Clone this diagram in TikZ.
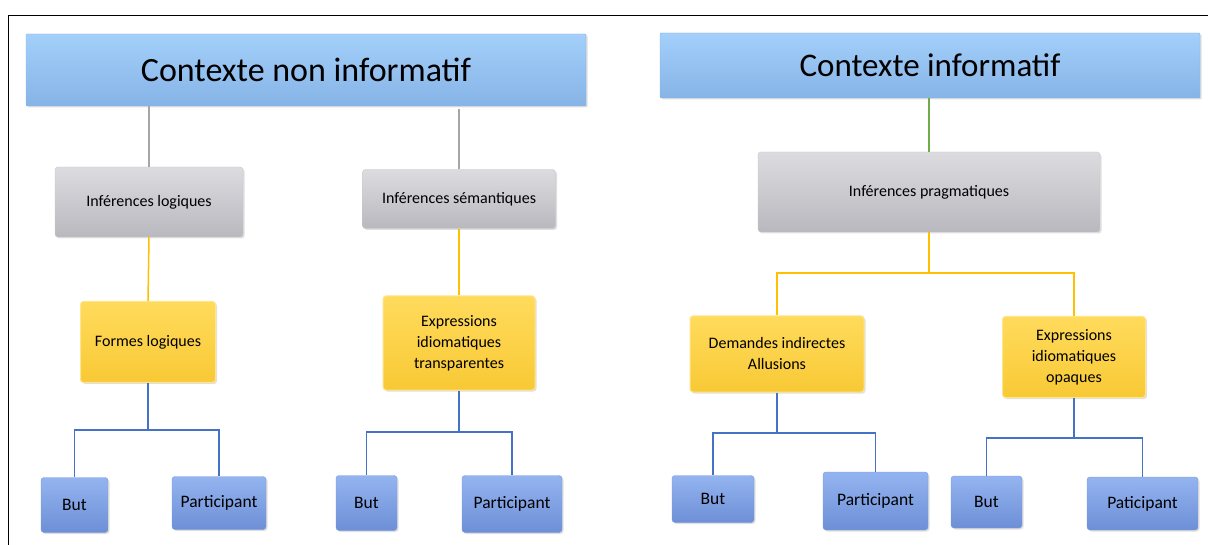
\documentclass[tikz,border=0pt]{standalone}
\usepackage{fontspec}
\setmainfont{Carlito}
\usetikzlibrary{shadows}
\definecolor{headtop}{HTML}{A3CFFA}
\definecolor{headbot}{HTML}{86B4E6}
\definecolor{greytop}{HTML}{DCDCE0}
\definecolor{greybot}{HTML}{B8B8BE}
\definecolor{yeltop}{HTML}{FFDB5C}
\definecolor{yelbot}{HTML}{F8C935}
\definecolor{yeledge}{HTML}{FFE48A}
\definecolor{bluetop}{HTML}{94B4F0}
\definecolor{bluebot}{HTML}{6D8FD6}
\definecolor{lgrey}{HTML}{A6A6A6}
\definecolor{lyel}{HTML}{FFC000}
\definecolor{lgreen}{HTML}{70AD47}
\definecolor{lblue}{HTML}{4472C4}

\begin{document}
\begin{tikzpicture}[x=1pt, y=-1pt, font=\fontsize{16}{21}\selectfont,
		box/.style ={rectangle, rounded corners=3pt, align=center, inner sep=2pt,
			drop shadow={opacity=0.25, shadow xshift=1.5pt, shadow yshift=-1.5pt}},
		head/.style ={box, rounded corners=1pt, top color=headtop, bottom color=headbot,
			draw=headbot, font=\fontsize{34}{38}\selectfont},
		grey/.style ={box, top color=greytop, bottom color=greybot, draw=greybot!80},
		yel/.style ={box, top color=yeltop, bottom color=yelbot, draw=yeledge, line width=1pt},
		leaf/.style ={box, top color=bluetop, bottom color=bluebot, draw=bluebot!90,
			font=\fontsize{17.5}{20}\selectfont},
		gline/.style ={draw=lgrey, line width=1.5pt},
		yline/.style ={draw=lyel, line width=1.5pt},
		vline/.style ={draw=lgreen, line width=1.5pt},
		bline/.style ={draw=lblue, line width=1.3pt}]
		\useasboundingbox (0,0) rectangle (1208,545);
		\draw[line width=0.8pt] (8,545) -- (8,15) -- (1208,15);
		% headers
		\node[head, minimum width=560, minimum height=72] (h1) at (306,70) {Contexte non informatif};
		\node[head, minimum width=540, minimum height=65, font=\fontsize{33}{36}\selectfont] (h2) at (930,65.5) {Contexte informatif};
		% inferences
		\node[grey, minimum width=188, minimum height=70] (il) at (149,202) {Inférences logiques};
		\node[grey, minimum width=193, minimum height=59] (is) at (459,199) {Inférences sémantiques};
		\node[grey, minimum width=342, minimum height=80] (ip) at (929,192) {Inférences pragmatiques};
		% second level
		\node[yel, minimum width=135, minimum height=81] (fl) at (148,342) {Formes logiques};
		\node[yel, minimum width=152, minimum height=94] (et) at (459,343) {Expressions\\idiomatiques\\transparentes};
		\node[yel, minimum width=174, minimum height=76] (da) at (777,354) {Demandes indirectes\\Allusions};
		\node[yel, minimum width=143, minimum height=81] (eo) at (1074,357) {Expressions\\idiomatiques\\opaques};
		% leaves
		\node[leaf, minimum width=67, minimum height=55] (b1) at (74.5,505) {But};
		\node[leaf, minimum width=94, minimum height=53] (p1) at (219,503) {Participant};
		\node[leaf, minimum width=61, minimum height=55] (b2) at (366.5,503) {But};
		\node[leaf, minimum width=100, minimum height=57] (p2) at (512,504) {Participant};
		\node[leaf, minimum width=82, minimum height=47] (b3) at (713,499) {But};
		\node[leaf, minimum width=105, minimum height=58] (p3) at (875.5,501) {Participant};
		\node[leaf, minimum width=71, minimum height=52] (b4) at (986.5,502) {But};
		\node[leaf, minimum width=111, minimum height=53] (p4) at (1142.5,503.5) {Paticipant};
		% junctions
		\coordinate (j1) at (148,430);
		\coordinate (j2) at (459,432);
		\coordinate (j3) at (777,433);
		\coordinate (j4) at (1074,438);
		\coordinate (j5) at (929,273);
		% connectors
		\draw[gline] (il.north) -- (il.north |- h1.south);
		\draw[gline] (is.north) -- ++(0,-60);
		\draw[vline] (ip.north) -- (ip.north |- h2.south);
		\draw[yline] (il.south) -- (fl.north);
		\draw[yline] (is.south) -- (et.north);
		\draw[yline] (ip.south) -- (j5);
		\draw[yline] (j5) -| (da.north);
		\draw[yline] (j5) -| (eo.north);
		\draw[bline] (fl.south) -- (j1);
		\draw[bline] (j1) -| (b1.north);
		\draw[bline] (j1) -| (p1.north);
		\draw[bline] (et.south) -- (j2);
		\draw[bline] (j2) -| (b2.north);
		\draw[bline] (j2) -| (p2.north);
		\draw[bline] (da.south) -- (j3);
		\draw[bline] (j3) -| (b3.north);
		\draw[bline] (j3) -| (p3.north);
		\draw[bline] (eo.south) -- (j4);
		\draw[bline] (j4) -| (b4.north);
		\draw[bline] (j4) -| (p4.north);
\end{tikzpicture}
\end{document}
